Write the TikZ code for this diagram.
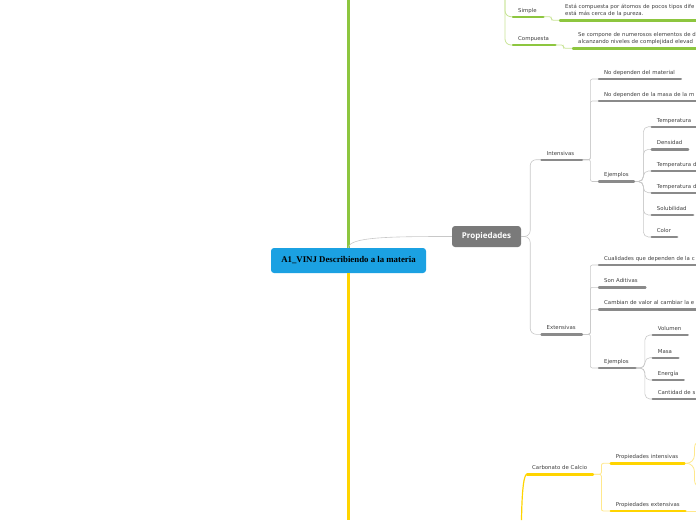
\documentclass[tikz,border=0pt]{standalone}
\usepackage{fontspec}
\usepackage{xcolor}
\usepackage{tikz}
\usetikzlibrary{arrows.meta, positioning, calc}
\newfontfamily\mapfont{DejaVu Sans}
\newfontfamily\propfont{Open Sans}
\newfontfamily\titlefont{Liberation Serif}
\definecolor{mapblue}{RGB}{27,161,226}
\definecolor{propgray}{RGB}{122,122,122}
\definecolor{bargray}{RGB}{138,138,138}
\definecolor{linegray}{RGB}{200,200,200}
\definecolor{txtgray}{RGB}{64,64,64}
\definecolor{mapgreen}{RGB}{141,198,63}
\definecolor{lightgreen}{RGB}{200,228,150}
\definecolor{mapyellow}{RGB}{255,212,0}
\definecolor{lightyellow}{RGB}{255,232,140}

\begin{document}
\begin{tikzpicture}[
  x=1pt, y=-1pt,
  central/.style={fill=mapblue, rounded corners=3pt, minimum width=155pt, minimum height=25pt, font=\titlefont\bfseries\fontsize{8.8}{10}\selectfont},
  main/.style={fill=propgray, rounded corners=3pt, minimum width=69pt, minimum height=21pt, text=white, font=\propfont\bfseries\fontsize{8}{9}\selectfont},
  leaf/.style={anchor=south west, inner xsep=5pt, inner ysep=4.5pt, text depth=0pt, align=left, text=txtgray, font=\mapfont\fontsize{5.4}{7.2}\selectfont},
  graybar/.style={draw=bargray, line width=2.4pt, line cap=round},
  greenbar/.style={draw=mapgreen, line width=2.4pt, line cap=round},
  yellowbar/.style={draw=mapyellow, line width=2.4pt, line cap=round},
  conn/.style={draw=linegray, line width=0.6pt},
  gconn/.style={draw=lightgreen, line width=0.8pt},
  yconn/.style={draw=lightyellow, line width=0.8pt}
]
\useasboundingbox (0,0) rectangle (696,520);
\clip (0,0) rectangle (696,520);

\node[central] (centro) at (348.5,260.5) {A1\_VINJ Describiendo a la materia};
\node[main] (prop) at (486.5,236.5) {Propiedades};
\coordinate (gtop) at (348.5,0);
\coordinate (ybot) at (348.5,520);

% propiedades
\node[leaf, text width=30pt] (intens) at (541.5,159.7) {Intensivas};
\node[leaf, text width=30pt] (extens) at (541.5,334.3) {Extensivas};
\node[leaf, text width=71.5pt] (nodep) at (599,79) {No dependen del material};
\node[leaf, text width=120pt] (nomasa) at (599,101) {No dependen de la masa de la m};
\node[leaf, text width=24.5pt] (ejint) at (599,181.5) {Ejemplos};
\node[leaf, text width=50pt] (temp) at (651.7,126.7) {Temperatura};
\node[leaf, text width=26pt] (dens) at (651.7,149.3) {Densidad};
\node[leaf, text width=50pt] (tfus) at (651.7,171) {Temperatura d};
\node[leaf, text width=50pt] (tebu) at (651.7,192.7) {Temperatura d};
\node[leaf, text width=31pt] (solu) at (651.7,215) {Solubilidad};
\node[leaf, text width=15pt] (color) at (651.7,237) {Color};
\node[leaf, text width=120pt] (cuali) at (599,265) {Cualidades que dependen de la c};
\node[leaf, text width=36pt] (adit) at (599,287.3) {Son Aditivas};
\node[leaf, text width=120pt] (cambian) at (599,309.3) {Cambian de valor al cambiar la e};
\node[leaf, text width=26pt] (ejext) at (599,368) {Ejemplos};
\node[leaf, text width=24.6pt] (vol) at (652.7,335) {Volumen};
\node[leaf, text width=15.3pt] (masa) at (652.7,357.7) {Masa};
\node[leaf, text width=20.6pt] (energia) at (652.7,380) {Energía};
\node[leaf, text width=50pt] (cant) at (652.7,399) {Cantidad de s};

% mezclas
\coordinate (gsub) at (505,0);
\node[leaf, text width=20pt] (simple) at (513,16.7) {Simple};
\node[leaf, text width=32pt] (compuesta) at (513,45) {Compuesta};
\node[leaf, text width=140pt, text depth=7.2pt] (dsimple) at (560,20.3) {Está compuesta por átomos de pocos tipos dife\\está más cerca de la pureza.};
\node[leaf, text width=130pt, text depth=7.2pt] (dcomp) at (573,48.3) {Se compone de numerosos elementos de d\\alcanzando niveles de complejidad elevad};

% ejemplo
\coordinate (ysub) at (521.5,520);
\node[leaf, text width=55.5pt] (carb) at (527,474.3) {Carbonato de Calcio};
\node[leaf, text width=63.3pt] (pint) at (610.7,463.3) {Propiedades intensivas};
\node[leaf, text width=64.3pt] (pext) at (610.7,511) {Propiedades extensivas};
\coordinate (pinta) at (710,440);
\coordinate (pintb) at (710,488);
\coordinate (pextout) at (710,511);

\draw[draw=mapgreen, line width=2.5pt] (centro.north) -- (gtop);
\draw[draw=mapyellow, line width=2.5pt] (centro.south) -- (ybot);
\draw[conn] (centro.north) .. controls +(0,-11) and +(-60,0) .. (prop.west);

\draw[conn, rounded corners=6pt] (prop.east) -- ++(9,0) |- (intens.south west);
\draw[conn, rounded corners=6pt] (prop.east) -- ++(9,0) |- (extens.south west);
\draw[conn, rounded corners=2pt] (intens.south east) -- ++(8.5,0) |- (nodep.south west);
\draw[conn, rounded corners=2pt] (intens.south east) -- ++(8.5,0) |- (nomasa.south west);
\draw[conn, rounded corners=2pt] (intens.south east) -- ++(8.5,0) |- (ejint.south west);
\draw[conn, rounded corners=5pt] (ejint.south east) -- ++(9.5,0) |- (temp.south west);
\draw[conn, rounded corners=5pt] (ejint.south east) -- ++(9.5,0) |- (dens.south west);
\draw[conn, rounded corners=5pt] (ejint.south east) -- ++(9.5,0) |- (tfus.south west);
\draw[conn, rounded corners=5pt] (ejint.south east) -- ++(9.5,0) |- (tebu.south west);
\draw[conn, rounded corners=5pt] (ejint.south east) -- ++(9.5,0) |- (solu.south west);
\draw[conn, rounded corners=5pt] (ejint.south east) -- ++(9.5,0) |- (color.south west);
\draw[conn, rounded corners=2pt] (extens.south east) -- ++(8.5,0) |- (cuali.south west);
\draw[conn, rounded corners=2pt] (extens.south east) -- ++(8.5,0) |- (adit.south west);
\draw[conn, rounded corners=2pt] (extens.south east) -- ++(8.5,0) |- (cambian.south west);
\draw[conn, rounded corners=2pt] (extens.south east) -- ++(8.5,0) |- (ejext.south west);
\draw[conn, rounded corners=5pt] (ejext.south east) -- ++(9.5,0) |- (vol.south west);
\draw[conn, rounded corners=5pt] (ejext.south east) -- ++(9.5,0) |- (masa.south west);
\draw[conn, rounded corners=5pt] (ejext.south east) -- ++(9.5,0) |- (energia.south west);
\draw[conn, rounded corners=5pt] (ejext.south east) -- ++(9.5,0) |- (cant.south west);

\draw[gconn, rounded corners=6pt] (gsub) |- (simple.south west);
\draw[gconn, rounded corners=6pt] (gsub) |- (compuesta.south west);
\draw[gconn, rounded corners=2pt] (simple.south east) -- ++(8,0) |- (dsimple.south west);
\draw[gconn, rounded corners=2pt] (compuesta.south east) -- ++(8,0) |- (dcomp.south west);

\draw[draw=mapyellow, line width=1.2pt] (ysub) .. controls +(0.5,-32) and +(-3,0) .. (carb.south west);
\draw[yconn, rounded corners=2pt] (carb.south east) -- ++(8.5,0) |- (pint.south west);
\draw[yconn, rounded corners=2pt] (carb.south east) -- ++(8.5,0) |- (pext.south west);
\draw[yconn, rounded corners=8pt] (pint.south east) -- ++(10,0) |- (pinta);
\draw[yconn, rounded corners=8pt] (pint.south east) -- ++(10,0) |- (pintb);
\draw[yconn] (pext.south east) -- (pextout);

\draw[graybar] (intens.south west) -- (intens.south east) (extens.south west) -- (extens.south east)
  (nodep.south west) -- (nodep.south east) (nomasa.south west) -- (nomasa.south east)
  (ejint.south west) -- (ejint.south east) (temp.south west) -- (temp.south east)
  (dens.south west) -- (dens.south east) (tfus.south west) -- (tfus.south east)
  (tebu.south west) -- (tebu.south east) (solu.south west) -- (solu.south east)
  (color.south west) -- (color.south east) (cuali.south west) -- (cuali.south east)
  (adit.south west) -- (adit.south east) (cambian.south west) -- (cambian.south east)
  (ejext.south west) -- (ejext.south east) (vol.south west) -- (vol.south east)
  (masa.south west) -- (masa.south east) (energia.south west) -- (energia.south east)
  (cant.south west) -- (cant.south east);
\draw[greenbar] (simple.south west) -- (simple.south east) (compuesta.south west) -- (compuesta.south east)
  (dsimple.south west) -- (dsimple.south east) (dcomp.south west) -- (dcomp.south east);
\draw[yellowbar] (carb.south west) -- (carb.south east) (pint.south west) -- (pint.south east)
  (pext.south west) -- (pext.south east);
\end{tikzpicture}
\end{document}
